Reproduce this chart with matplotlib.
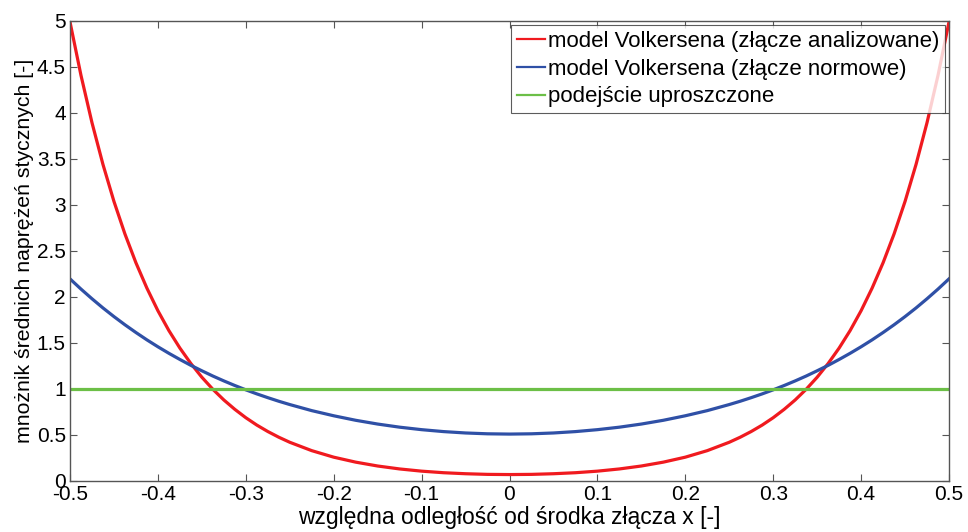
import matplotlib
matplotlib.use("Agg")
import matplotlib.pyplot as plt

plt.rcParams['font.family'] = ['Liberation Sans', 'DejaVu Sans']

x_half = [0.0, 0.025, 0.05, 0.075, 0.1, 0.125, 0.15, 0.175, 0.2, 0.225, 0.25,
          0.2625, 0.275, 0.2875, 0.3, 0.3125, 0.325, 0.3375, 0.35, 0.3625, 0.375,
          0.3875, 0.4, 0.4125, 0.425, 0.4375, 0.45, 0.4625, 0.475, 0.4875, 0.5]
red_half = [0.070, 0.072, 0.079, 0.090, 0.107, 0.131, 0.163, 0.205, 0.259, 0.330, 0.421,
            0.476, 0.538, 0.608, 0.688, 0.779, 0.881, 0.997, 1.128, 1.277, 1.445,
            1.635, 1.851, 2.096, 2.372, 2.685, 3.039, 3.441, 3.895, 4.409, 4.99]
blue_half = [0.510, 0.513, 0.522, 0.537, 0.558, 0.585, 0.619, 0.660, 0.709, 0.765, 0.831,
             0.867, 0.906, 0.947, 0.991, 1.038, 1.088, 1.141, 1.198, 1.257, 1.321,
             1.388, 1.459, 1.534, 1.614, 1.698, 1.787, 1.881, 1.981, 2.086, 2.197]
green_val = 1.0

x = [-v for v in x_half[:0:-1]] + x_half
red = red_half[:0:-1] + red_half
blue = blue_half[:0:-1] + blue_half
green = [green_val for _ in x]

labels = ['model Volkersena (złącze analizowane)',
          'model Volkersena (złącze normowe)',
          'podejście uproszczone']

fig = plt.figure(figsize=(9.68, 5.32), dpi=100)
ax = fig.add_axes([70/968, 1-481/532, (949-70)/968, (481-21)/532])
ax.plot(x, red, color='#F01A1F', lw=2.3, label=labels[0])
ax.plot(x, blue, color='#2F50A6', lw=2.3, label=labels[1])
ax.plot(x, green, color='#6CBF47', lw=2.3, label=labels[2])

ax.set_xlim(-0.5, 0.5)
ax.set_ylim(0, 5)
ax.set_xticks([-0.5, -0.4, -0.3, -0.2, -0.1, 0, 0.1, 0.2, 0.3, 0.4, 0.5])
ax.set_xticklabels(['-0.5', '-0.4', '-0.3', '-0.2', '-0.1', '0', '0.1', '0.2', '0.3', '0.4', '0.5'])
ax.set_yticks([0, 0.5, 1, 1.5, 2, 2.5, 3, 3.5, 4, 4.5, 5])
ax.set_yticklabels(['0', '0.5', '1', '1.5', '2', '2.5', '3', '3.5', '4', '4.5', '5'])
ax.tick_params(direction='in', top=True, right=True, length=5, width=0.8,
               labelsize=15, colors='#555555', labelcolor='black', pad=3)
for s in ax.spines.values():
    s.set_color('#555555')
    s.set_linewidth(1.0)

ax.set_xlabel('względna odległość od środka złącza x [-]', fontsize=16.5, labelpad=1)
ax.set_ylabel('mnożnik średnich naprężeń stycznych [-]', fontsize=15.3, labelpad=2)

leg = ax.legend(loc='upper right', fontsize=16, frameon=True, fancybox=False,
                edgecolor='#333333', handlelength=1.3, handletextpad=0.1,
                borderpad=0.25, labelspacing=0.3, borderaxespad=0.2)
leg.get_frame().set_linewidth(0.8)
for h in leg.get_lines():
    h.set_linewidth(1.6)

fig.savefig('out.png', dpi=100)
